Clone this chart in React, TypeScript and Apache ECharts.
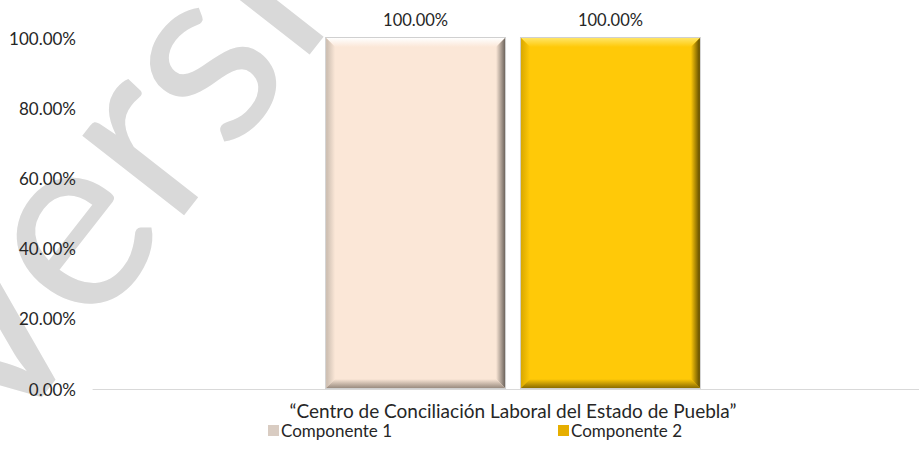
import React, { useEffect, useRef } from "react";
import * as echarts from "echarts";

const categories = ["“Centro de Conciliación Laboral del Estado de Puebla”"];
const seriesNames = ["Componente 1", "Componente 2"];
const componente1 = [100];
const componente2 = [100];
const yTicks = [0, 20, 40, 60, 80, 100];

const palettes = [
  { face: "#FBE7D7", top: "#FFFFFF", left: "#C9BBAE", right: "#6E655D", bottom: "#9A8C80" },
  { face: "#FFC908", top: "#FFE566", left: "#D9A800", right: "#5E4A00", bottom: "#8C6D00" },
];

function makeRender(idx: number) {
  const pal = palettes[idx];
  return (params: any, api: any) => {
    const cat = api.value(0);
    const val = api.value(1);
    const base = api.coord([cat, 0]);
    const topP = api.coord([cat, val]);
    const band = api.size([1, 0])[0];
    const bw = band * 0.213;
    const gap = band * 0.019;
    const cx = base[0] + (idx === 0 ? -(bw + gap) / 2 : (bw + gap) / 2);
    const x0 = cx - bw / 2;
    const x1 = cx + bw / 2;
    const y0 = topP[1];
    const y1 = base[1] - 1;
    const b = 9;
    const lin = (x: number, y: number, x2: number, y2: number, c1: string, c2: string) =>
      new echarts.graphic.LinearGradient(x, y, x2, y2, [
        { offset: 0, color: c1 },
        { offset: 1, color: c2 },
      ]);
    return {
      type: "group",
      children: [
        { type: "rect", shape: { x: x0 - 1, y: y0 - 1, width: bw + 2, height: y1 - y0 + 2 }, style: { fill: "rgba(120,120,120,0.35)" } },
        { type: "rect", shape: { x: x0, y: y0, width: bw, height: y1 - y0 }, style: { fill: pal.face } },
        { type: "polygon", shape: { points: [[x0, y0], [x1, y0], [x1 - b, y0 + b], [x0 + b, y0 + b]] }, style: { fill: lin(0, 0, 0, 1, pal.top, pal.face) } },
        { type: "polygon", shape: { points: [[x0, y0], [x0 + b, y0 + b], [x0 + b, y1 - b], [x0, y1]] }, style: { fill: lin(0, 0, 1, 0, pal.left, pal.face) } },
        { type: "polygon", shape: { points: [[x1, y0], [x1, y1], [x1 - b, y1 - b], [x1 - b, y0 + b]] }, style: { fill: lin(1, 0, 0, 0, pal.right, pal.face) } },
        { type: "polygon", shape: { points: [[x0, y1], [x1, y1], [x1 - b, y1 - b], [x0 + b, y1 - b]] }, style: { fill: lin(0, 1, 0, 0, pal.bottom, pal.face) } },
        {
          type: "text",
          style: {
            x: cx,
            y: y0 - 10,
            text: val.toFixed(2) + "%",
            align: "center",
            verticalAlign: "bottom",
            fill: "#262626",
            font: "16.5px Lato",
          },
        },
      ],
    };
  };
}

export default function App() {
  const ref = useRef<HTMLDivElement>(null);
  useEffect(() => {
    if (!ref.current) return;
    const chart = echarts.init(ref.current, undefined, { renderer: "svg" });
    const seriesData = [componente1, componente2];
    chart.setOption({
      animation: false,
      backgroundColor: "#ffffff",
      graphic: [
        {
          type: "text",
          z: -10,
          x: 18,
          y: 474,
          rotation: (52 * Math.PI) / 180,
          style: {
            text: "Versión Pública",
            font: "255px Lato",
            fill: "#d9d9d9",
            align: "left",
            verticalAlign: "bottom",
          },
        },
      ],
      grid: { left: 93, right: 0, top: 38, bottom: 81, containLabel: false },
      xAxis: {
        type: "category",
        data: categories,
        axisLine: { lineStyle: { color: "#d9d9d9", width: 1 } },
        axisTick: { show: false },
        axisLabel: { color: "#262626", fontSize: 19, fontFamily: "Lato", margin: 12 },
      },
      yAxis: {
        type: "value",
        min: yTicks[0],
        max: yTicks[yTicks.length - 1],
        interval: 20,
        axisLine: { show: false },
        axisTick: { show: false },
        splitLine: { show: false },
        axisLabel: {
          color: "#262626",
          fontSize: 17,
          fontFamily: "Lato",
          margin: 17,
          formatter: (v: number) => v.toFixed(2) + "%",
        },
      },
      legend: [
        {
          data: [seriesNames[0]],
          left: 263,
          top: 417,
          itemWidth: 11,
          itemHeight: 11,
          icon: "rect",
          textStyle: { color: "#262626", fontSize: 17, fontFamily: "Lato", padding: [0, 0, 0, -3] },
        },
        {
          data: [seriesNames[1]],
          left: 553,
          top: 417,
          itemWidth: 11,
          itemHeight: 11,
          icon: "rect",
          textStyle: { color: "#262626", fontSize: 17, fontFamily: "Lato", padding: [0, 0, 0, -3] },
        },
      ],
      series: seriesNames.map((name, i) => ({
        type: "custom",
        name,
        renderItem: makeRender(i),
        itemStyle: { color: i === 0 ? "#D9CCC2" : "#E6AE00" },
        encode: { x: 0, y: 1 },
        data: seriesData[i].map((v, k) => [k, v]),
        z: 2,
      })),
    });
    return () => chart.dispose();
  }, []);
  return (
    <div
      style={{ position: "absolute", left: 0, top: 0, width: 919, height: 470, overflow: "hidden" }}
    >
      <div ref={ref} style={{ position: "absolute", left: 0, top: 0, width: 933, height: 470 }} />
    </div>
  );
}
